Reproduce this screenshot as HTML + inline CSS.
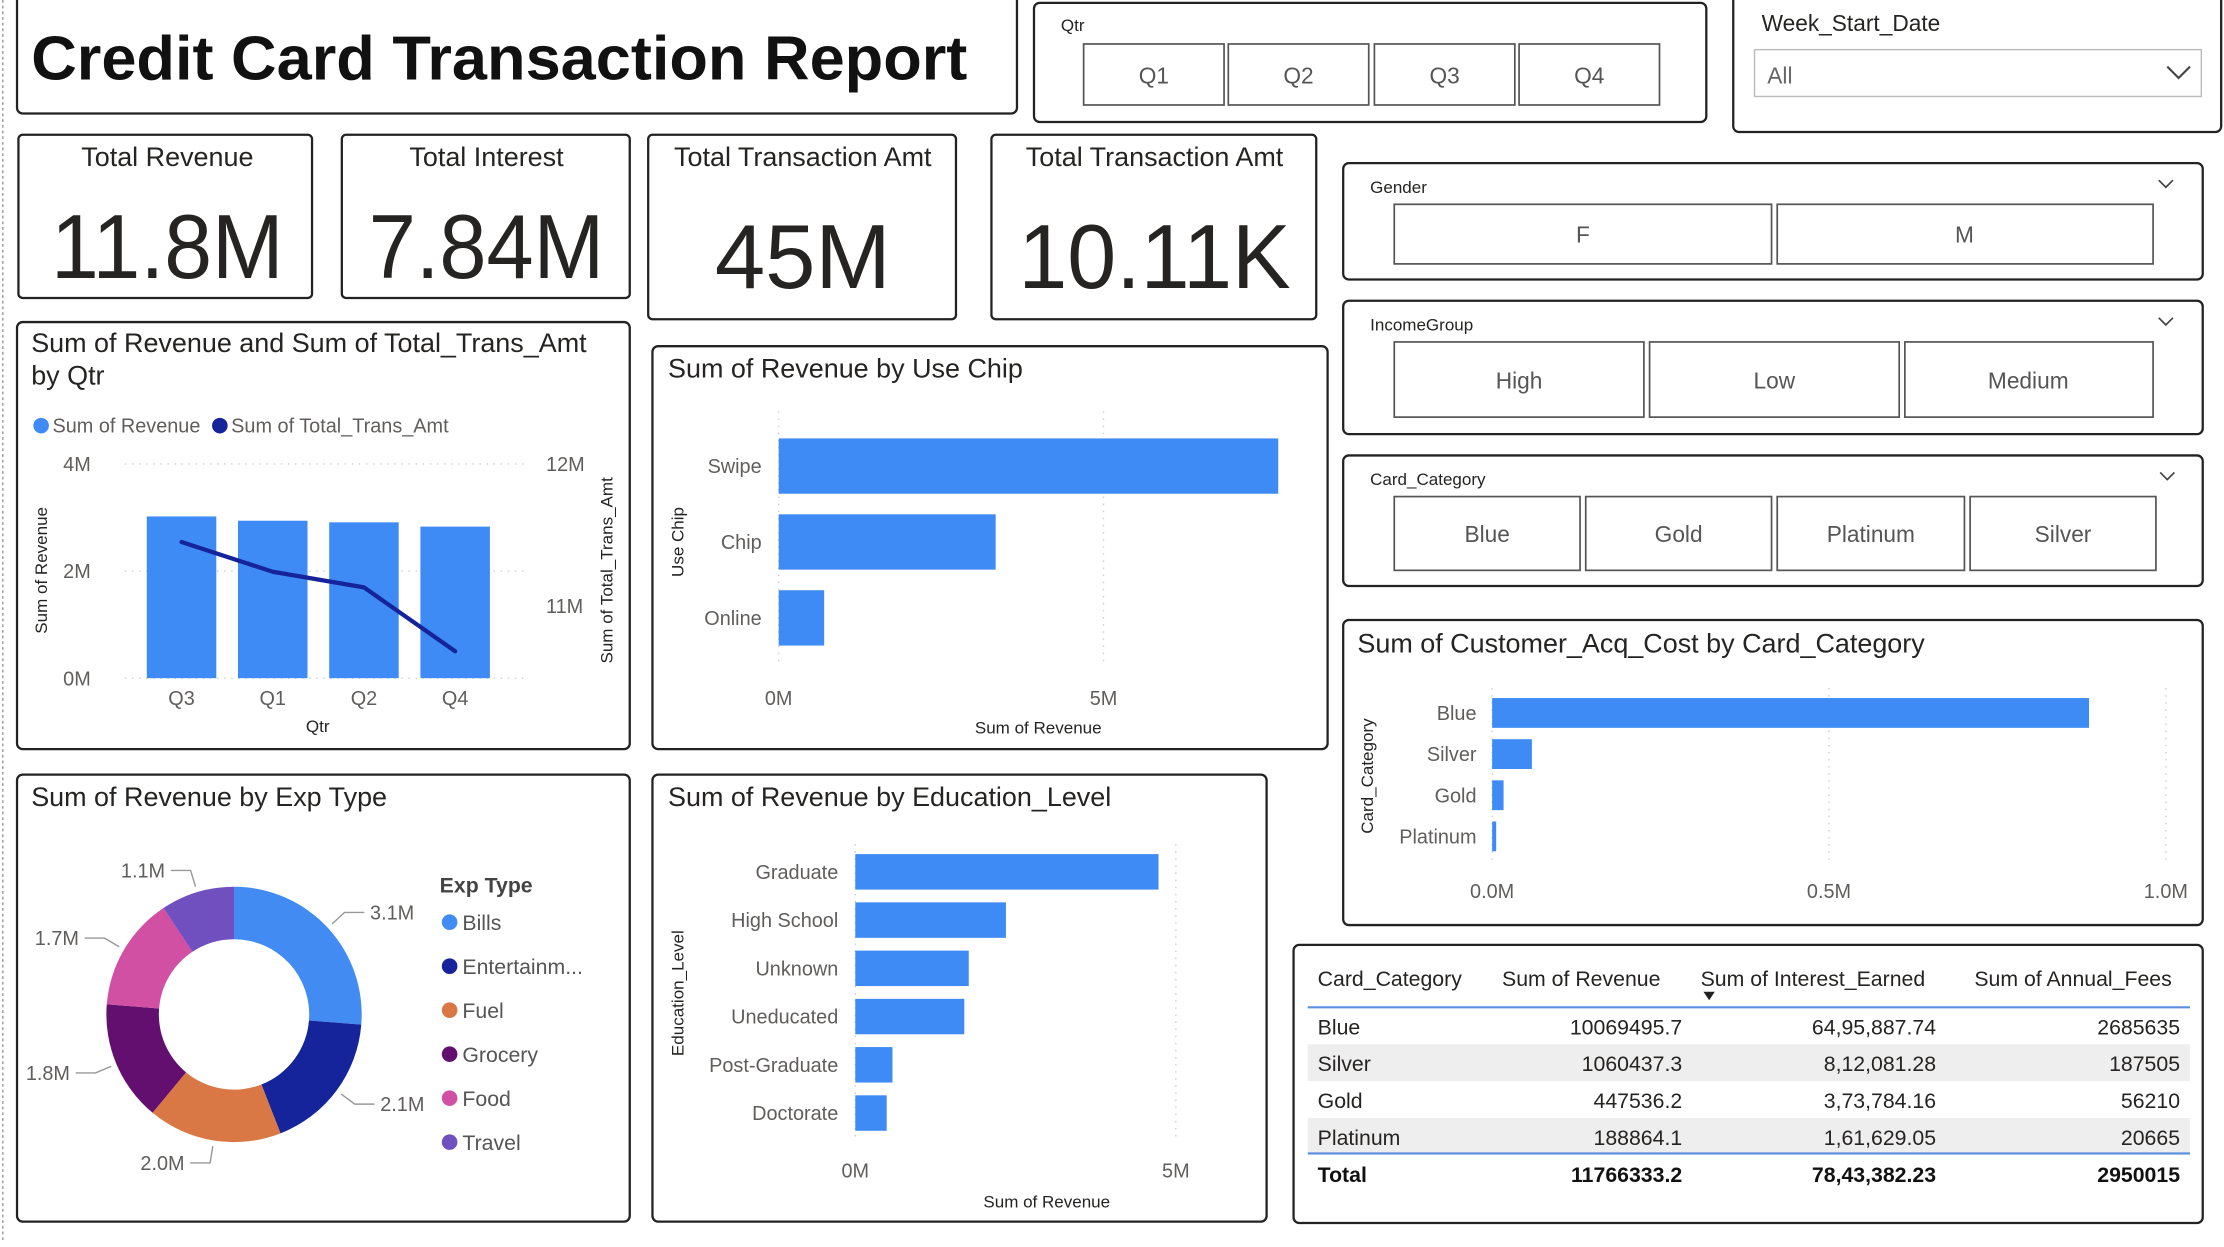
<!DOCTYPE html>
<html><head><meta charset="utf-8">
<style>
html,body{margin:0;padding:0;background:#fff;width:2224px;height:1240px;overflow:hidden}
#wrap{position:absolute;left:0;top:0;width:1568px;height:874px;transform:scale(1.41837,1.4188);transform-origin:0 0}
svg{font-family:"Liberation Sans","DejaVu Sans",sans-serif}
</style></head><body>
<div id="wrap">
<svg id="s" width="1568" height="874" viewBox="0 0 1568 874">
<line x1="2" y1="0" x2="2" y2="874" stroke="#999" stroke-dasharray="2,2"/>
<rect x="12" y="-4" width="705" height="84" rx="4" fill="#fff" stroke="#222" stroke-width="1.6"/>
<text x="22" y="56" font-size="44" font-weight="bold" fill="#111" textLength="660" lengthAdjust="spacingAndGlyphs">Credit Card Transaction Report</text>
<g>
<rect x="729" y="2" width="474" height="84" rx="4" fill="#fff" stroke="#222" stroke-width="1.6"/>
<text x="748" y="22" font-size="12" fill="#252423">Qtr</text>
<g><rect x="764" y="31" width="99" height="43" fill="#fff" stroke="#555" stroke-width="1.2"/><text x="813.5" y="59" font-size="16" fill="#555" text-anchor="middle">Q1</text></g>
<g><rect x="866" y="31" width="99" height="43" fill="#fff" stroke="#555" stroke-width="1.2"/><text x="915.5" y="59" font-size="16" fill="#555" text-anchor="middle">Q2</text></g>
<g><rect x="969" y="31" width="99" height="43" fill="#fff" stroke="#555" stroke-width="1.2"/><text x="1018.5" y="59" font-size="16" fill="#555" text-anchor="middle">Q3</text></g>
<g><rect x="1071" y="31" width="99" height="43" fill="#fff" stroke="#555" stroke-width="1.2"/><text x="1120.5" y="59" font-size="16" fill="#555" text-anchor="middle">Q4</text></g>
</g>
<g>
<rect x="1222" y="-4" width="344" height="97" rx="4" fill="#fff" stroke="#222" stroke-width="1.6"/>
<text x="1242" y="22" font-size="16" fill="#252423">Week_Start_Date</text>
<g>
<rect x="1237" y="35" width="315" height="33" fill="#fff" stroke="#bbb"/>
<text x="1246" y="59" font-size="16" fill="#666">All</text>
<polyline points="1528,47 1536,55 1544,47" fill="none" stroke="#444" stroke-width="1.5"/>
</g></g>
<g>
<rect x="13" y="95" width="207" height="115" rx="3" fill="#fff" stroke="#222" stroke-width="1.6"/>
<text x="118" y="117" font-size="19" fill="#252423" text-anchor="middle">Total Revenue</text>
<text x="118" y="196" font-size="64" fill="#252423" text-anchor="middle" textLength="164" lengthAdjust="spacingAndGlyphs">11.8M</text></g>
<g>
<rect x="241" y="95" width="203" height="115" rx="3" fill="#fff" stroke="#222" stroke-width="1.6"/>
<text x="343" y="117" font-size="19" fill="#252423" text-anchor="middle">Total Interest</text>
<text x="343" y="196" font-size="64" fill="#252423" text-anchor="middle" textLength="166" lengthAdjust="spacingAndGlyphs">7.84M</text></g>
<g>
<rect x="457" y="95" width="217" height="130" rx="3" fill="#fff" stroke="#222" stroke-width="1.6"/>
<text x="566" y="117" font-size="19" fill="#252423" text-anchor="middle">Total Transaction Amt</text>
<text x="566" y="203" font-size="64" fill="#252423" text-anchor="middle" textLength="124" lengthAdjust="spacingAndGlyphs">45M</text></g>
<g>
<rect x="699" y="95" width="229" height="130" rx="3" fill="#fff" stroke="#222" stroke-width="1.6"/>
<text x="814" y="117" font-size="19" fill="#252423" text-anchor="middle">Total Transaction Amt</text>
<text x="814" y="203" font-size="64" fill="#252423" text-anchor="middle" textLength="192" lengthAdjust="spacingAndGlyphs">10.11K</text></g>
<g>
<rect x="947" y="115" width="606" height="82" rx="4" fill="#fff" stroke="#222" stroke-width="1.6"/>
<text x="966" y="136" font-size="12" fill="#252423">Gender</text>
<polyline points="1522,127 1527,132 1532,127" fill="none" stroke="#444" stroke-width="1.2"/>
<g><rect x="983" y="144" width="266" height="42" fill="#fff" stroke="#555" stroke-width="1.2"/><text x="1116" y="171" font-size="16" fill="#555" text-anchor="middle">F</text></g>
<g><rect x="1253" y="144" width="265" height="42" fill="#fff" stroke="#555" stroke-width="1.2"/><text x="1385" y="171" font-size="16" fill="#555" text-anchor="middle">M</text></g>
</g>
<g>
<rect x="947" y="212" width="606" height="94" rx="4" fill="#fff" stroke="#222" stroke-width="1.6"/>
<text x="966" y="233" font-size="12" fill="#252423">IncomeGroup</text>
<polyline points="1522,224 1527,229 1532,224" fill="none" stroke="#444" stroke-width="1.2"/>
<g><rect x="983" y="241" width="176" height="53" fill="#fff" stroke="#555" stroke-width="1.2"/><text x="1071" y="274" font-size="16" fill="#555" text-anchor="middle">High</text></g>
<g><rect x="1163" y="241" width="176" height="53" fill="#fff" stroke="#555" stroke-width="1.2"/><text x="1251" y="274" font-size="16" fill="#555" text-anchor="middle">Low</text></g>
<g><rect x="1343" y="241" width="175" height="53" fill="#fff" stroke="#555" stroke-width="1.2"/><text x="1430" y="274" font-size="16" fill="#555" text-anchor="middle">Medium</text></g>
</g>
<g>
<rect x="947" y="321" width="606" height="92" rx="4" fill="#fff" stroke="#222" stroke-width="1.6"/>
<text x="966" y="342" font-size="12" fill="#252423">Card_Category</text>
<polyline points="1523,333 1528,338 1533,333" fill="none" stroke="#444" stroke-width="1.2"/>
<g><rect x="983" y="350" width="131" height="52" fill="#fff" stroke="#555" stroke-width="1.2"/><text x="1048.5" y="382" font-size="16" fill="#555" text-anchor="middle">Blue</text></g>
<g><rect x="1118" y="350" width="131" height="52" fill="#fff" stroke="#555" stroke-width="1.2"/><text x="1183.5" y="382" font-size="16" fill="#555" text-anchor="middle">Gold</text></g>
<g><rect x="1253" y="350" width="132" height="52" fill="#fff" stroke="#555" stroke-width="1.2"/><text x="1319" y="382" font-size="16" fill="#555" text-anchor="middle">Platinum</text></g>
<g><rect x="1389" y="350" width="131" height="52" fill="#fff" stroke="#555" stroke-width="1.2"/><text x="1454.5" y="382" font-size="16" fill="#555" text-anchor="middle">Silver</text></g>
</g>
<rect x="12" y="227" width="432" height="301" rx="4" fill="#fff" stroke="#222" stroke-width="1.6"/>
<text x="22" y="248" font-size="19" fill="#252423">Sum of Revenue and Sum of Total_Trans_Amt</text>
<text x="22" y="271" font-size="19" fill="#252423">by Qtr</text>
<rect x="460" y="244" width="476" height="284" rx="4" fill="#fff" stroke="#222" stroke-width="1.6"/>
<text x="471" y="266" font-size="19" fill="#252423">Sum of Revenue by Use Chip</text>
<rect x="12" y="546" width="432" height="315" rx="4" fill="#fff" stroke="#222" stroke-width="1.6"/>
<text x="22" y="568" font-size="19" fill="#252423">Sum of Revenue by Exp Type</text>
<rect x="460" y="546" width="433" height="315" rx="4" fill="#fff" stroke="#222" stroke-width="1.6"/>
<text x="471" y="568" font-size="19" fill="#252423">Sum of Revenue by Education_Level</text>
<rect x="947" y="437" width="606" height="215" rx="4" fill="#fff" stroke="#222" stroke-width="1.6"/>
<text x="957" y="460" font-size="19" fill="#252423">Sum of Customer_Acq_Cost by Card_Category</text>
<rect x="912" y="666" width="641" height="196" rx="4" fill="#fff" stroke="#222" stroke-width="1.6"/>
<g id="charts"></g>
</svg>
</div>
<script>
var qtrCats=["Q3","Q1","Q2","Q4"];
var qtrRevenue=[3.02,2.94,2.91,2.83];
var qtrTransAmt=[11.45,11.24,11.13,10.68];
var leftTicks=[0,2,4];
var rightTicks=[11,12];
var chipCats=["Swipe","Chip","Online"];
var chipValues=[7.69,3.34,0.70];
var eduCats=["Graduate","High School","Unknown","Uneducated","Post-Graduate","Doctorate"];
var eduValues=[4.73,2.35,1.77,1.70,0.58,0.49];
var revTicks=[0,5];
var acqCats=["Blue","Silver","Gold","Platinum"];
var acqValues=[0.886,0.059,0.017,0.006];
var acqTicks=[0,0.5,1.0];
var expCats=["Bills","Entertainm...","Fuel","Grocery","Food","Travel"];
var expValues=[3.1,2.1,2.0,1.8,1.7,1.1];
var expColors=["#418bf2","#15249a","#d97845","#620f70","#d150a3","#7050be"];
var tblCats=["Blue","Silver","Gold","Platinum"];
var tblRevenue=["10069495.7","1060437.3","447536.2","188864.1"];
var tblInterest=["64,95,887.74","8,12,081.28","3,73,784.16","1,61,629.05"];
var tblFees=["2685635","187505","56210","20665"];
var tblTotal=["Total","11766333.2","78,43,382.23","2950015"];

var NS="http://www.w3.org/2000/svg";
var root=document.getElementById('charts');
function el(tag,attrs,parent,txt){var e=document.createElementNS(NS,tag);for(var k in attrs)e.setAttribute(k,attrs[k]);if(txt!=null)e.textContent=txt;(parent||root).appendChild(e);return e;}
var BAR="#3f8bf5",TICK="#605e5c";

var yL=function(v){return 478-v/4*151;};
var yR=function(v){return 327+(12-v)*100;};
var xQ=function(i){return 128+i*64.3;};
var g=el('g',{});


el('circle',{cx:29,cy:300,r:5.5,fill:BAR},g);
var lt1=el('text',{x:37,y:305,'font-size':14,fill:TICK},g,'Sum of Revenue');


el('circle',{cx:155,cy:300,r:5.5,fill:"#15249a"},g);
var lt2=el('text',{x:163,y:305,'font-size':14,fill:TICK},g,'Sum of Total_Trans_Amt');


leftTicks.forEach(function(t){
  el('line',{x1:88,x2:372,y1:yL(t),y2:yL(t),stroke:"#ccc","stroke-dasharray":"1,4"},g);
  var tx=el('text',{x:64,y:yL(t)+5,'font-size':14,fill:TICK,'text-anchor':'end'},g,t+'M');
  
  
});
rightTicks.forEach(function(t){
  var tx=el('text',{x:385,y:yR(t)+5,'font-size':14,fill:TICK},g,t+'M');
  
  
});
qtrCats.forEach(function(c,i){
  var b=el('rect',{x:xQ(i)-24.5,y:yL(qtrRevenue[i]),width:49,height:478-yL(qtrRevenue[i]),fill:BAR},g);
  
  
  var tx=el('text',{x:xQ(i),y:497,'font-size':14,fill:TICK,'text-anchor':'middle'},g,c);
  
  
});
var pts=qtrCats.map(function(c,i){return xQ(i)+','+yR(qtrTransAmt[i]);}).join(' ');
var ln=el('polyline',{points:pts,fill:'none',stroke:'#15249a','stroke-width':3,'stroke-linejoin':'round','stroke-linecap':'round'},g);


var xt=el('text',{x:224,y:516,'font-size':12,fill:'#252423','text-anchor':'middle'},g,'Qtr');


var yt=el('text',{x:0,y:0,'font-size':12,fill:'#252423','text-anchor':'middle',transform:'translate(33,402) rotate(-90)'},g,'Sum of Revenue');


var yt2=el('text',{x:0,y:0,'font-size':12,fill:'#252423','text-anchor':'middle',transform:'translate(432,402) rotate(-90)'},g,'Sum of Total_Trans_Amt');



function hbar(name,cats,vals,x0,pxPerUnit,c0,step,h,labelX,ticks,tickY,tickFmt,gridTop,gridBot,axisTitle,atX,atY,ytitle,ytX,ytY){
  var gg=el('g',{});
  
  
  var sx=function(v){return x0+v*pxPerUnit;};
  ticks.forEach(function(t){
    el('line',{x1:sx(t),x2:sx(t),y1:gridTop,y2:gridBot,stroke:"#ccc","stroke-dasharray":"1,4"},gg);
    var tx=el('text',{x:sx(t),y:tickY,'font-size':14,fill:TICK,'text-anchor':'middle'},gg,tickFmt(t));
    
    
  });
  cats.forEach(function(c,i){
    var cy=c0+i*step;
    var b=el('rect',{x:x0,y:cy-h/2,width:Math.max(0,sx(vals[i])-x0),height:h,fill:BAR},gg);
    
    
    var tx=el('text',{x:labelX,y:cy+5,'font-size':14,fill:TICK,'text-anchor':'end'},gg,c);
    
    
  });
  if(axisTitle){var at=el('text',{x:atX,y:atY,'font-size':12,fill:'#252423','text-anchor':'middle'},gg,axisTitle);
  
  }
  var yt=el('text',{x:0,y:0,'font-size':12,fill:'#252423','text-anchor':'middle',transform:'translate('+ytX+','+ytY+') rotate(-90)'},gg,ytitle);
  
  
}
hbar('use-chip-chart',chipCats,chipValues,549,229/5,328.5,53.5,39,537,revTicks,497,function(t){return t+'M';},290,470,'Sum of Revenue',732,517,'Use Chip',482,382);
hbar('education-chart',eduCats,eduValues,603,226/5,614.5,34,25,591,revTicks,830,function(t){return t+'M';},595,805,'Sum of Revenue',738,851,'Education_Level',482,700);
hbar('acq-cost-chart',acqCats,acqValues,1052,475,502.5,29,21,1041,acqTicks,633,function(t){return t.toFixed(1)+'M';},485,608,null,0,0,'Card_Category',968,547);

var dg=el('g',{});


var cx=165,cy=715,R=90,r=53;
var tot=expValues.reduce(function(a,b){return a+b;},0);
var ang=0;
expValues.forEach(function(v,i){
  var a0=ang,a1=ang+v/tot*2*Math.PI;ang=a1;
  function P(rad,a){return [cx+rad*Math.sin(a),cy-rad*Math.cos(a)];}
  var p1=P(R,a0),p2=P(R,a1),p3=P(r,a1),p4=P(r,a0),lg=(a1-a0)>Math.PI?1:0;
  var d='M'+p1+' A'+R+','+R+' 0 '+lg+' 1 '+p2+' L'+p3+' A'+r+','+r+' 0 '+lg+' 0 '+p4+' Z';
  var s=el('path',{d:d,fill:expColors[i]},dg);
  
  
  var am=(a0+a1)/2,q=P(R+4,am),q2=P(R+16,am);
  var right=Math.sin(am)>=0;
  var hx=q2[0]+(right?14:-14);
  el('polyline',{points:q+' '+q2+' '+hx+','+q2[1],fill:'none',stroke:'#999','stroke-width':1},dg);
  var lb=el('text',{x:hx+(right?4:-4),y:q2[1]+5,'font-size':14,fill:TICK,'text-anchor':right?'start':'end'},dg,v.toFixed(1)+'M');
  
  
});
var lt=el('text',{x:310,y:629,'font-size':15,'font-weight':'bold',fill:'#444'},dg,'Exp Type');


expCats.forEach(function(c,i){
  var y=650+i*31;
  el('circle',{cx:317,cy:y,r:5.5,fill:expColors[i]},dg);
  var t=el('text',{x:326,y:y+5.5,'font-size':15,fill:'#555'},dg,c);
  
  
});

var tg=el('g',{});


var colX=[929,1186,1365,1537],anch=['start','end','end','end'];
var hdr=["Card_Category","Sum of Revenue","Sum of Interest_Earned","Sum of Annual_Fees"];
var hx=[929,1059,1199,1392];
hdr.forEach(function(h,i){var t=el('text',{x:hx[i],y:695,'font-size':15,fill:'#252423'},tg,h);
  
  });
el('path',{d:'M1201,699 L1209,699 L1205,705 Z',fill:'#222'},tg);
el('line',{x1:922,x2:1544,y1:710,y2:710,stroke:'#5b8fe0','stroke-width':1.5},tg);
tblCats.forEach(function(c,i){
  var y=723+i*26;
  if(i%2==1)el('rect',{x:922,y:y-13,width:622,height:26,fill:'#efeeee'},tg);
  var row=[c,tblRevenue[i],tblInterest[i],tblFees[i]];
  row.forEach(function(v,j){var t=el('text',{x:colX[j],y:y+6,'font-size':15,fill:'#252423','text-anchor':anch[j]},tg,v);
    
    });
});
el('line',{x1:922,x2:1544,y1:813,y2:813,stroke:'#5b8fe0','stroke-width':1.5},tg);
tblTotal.forEach(function(v,j){var t=el('text',{x:colX[j],y:833,'font-size':15,'font-weight':'bold',fill:'#111','text-anchor':anch[j]},tg,v);
  
  });
</script>
</body></html>
